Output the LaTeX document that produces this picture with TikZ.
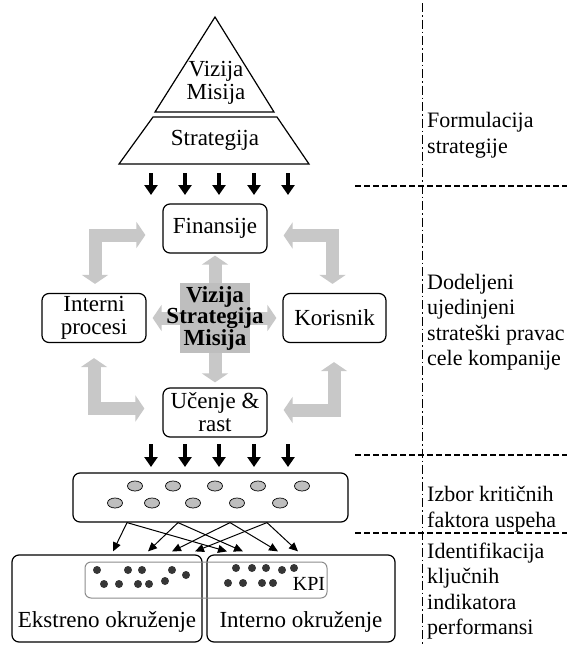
\documentclass[tikz,border=0pt]{standalone}
\usepackage{fontspec}
\setmainfont{Liberation Serif}
\usepackage{tikz}
\usetikzlibrary{arrows.meta,positioning,shapes.geometric,calc}
\definecolor{bscGray}{HTML}{C8C8C8}
\definecolor{bscCore}{HTML}{BEBEBE}
\definecolor{bscDot}{HTML}{363636}
\definecolor{bscFrame}{HTML}{8C8C8C}
\tikzset{
  x=1pt, y=-1pt,
  every picture/.append style={font=\fontsize{23}{23}\selectfont},
  persp/.style={rectangle,rounded corners=7pt,draw,line width=1.2pt,align=center,minimum width=104pt,minimum height=49pt,inner sep=2pt},
  pyr/.style={draw,line width=1.2pt,line join=miter},
  oval/.style={ellipse,draw,line width=0.7pt,fill=bscCore,minimum width=15pt,minimum height=10pt,inner sep=0pt},
  fatarrow/.style={draw=bscGray,line width=13pt},
  fatone/.style={fatarrow,-{Triangle[length=9pt,width=26pt]}},
  fattwo/.style={fatarrow,{Triangle[length=9pt,width=26pt]}-{Triangle[length=9pt,width=26pt]}},
  downarrow/.style={line width=4pt,-{Triangle[length=10pt,width=13pt]}},
  thinarrow/.style={line width=1pt,-{Triangle[length=9pt,width=8pt]}},
  sidetext/.style={anchor=west,align=left,inner sep=0pt,font=\fontsize{22}{25.5}\selectfont},
  sepline/.style={line width=1.2pt,dash pattern=on 6pt off 3pt},
  stageline/.style={line width=1pt,dash pattern=on 9pt off 3pt on 1.5pt off 3pt},
}
\begin{document}
\begin{tikzpicture}
  \useasboundingbox (0,0) rectangle (567,646);
  % pyramid
  \coordinate (apex) at (215,17);
  \draw[pyr] (apex) -- (274,112) -- (155,112) -- cycle;
  \draw[pyr] (153,117) -- (277,117) -- (309,164) -- (119,164) -- cycle;
  \node[align=center] (vm) at (216,83) {Vizija\\Misija};
  \node (str) at (215,140) {Strategija};
  \foreach \x in {151,185,219,254,288} \draw[downarrow] (\x,173) -- (\x,195);
  % perspectives
  \node[persp] (fin) at (215,228.5) {Finansije};
  \node[persp] (int) at (94,318) {Interni\\procesi};
  \node[persp, minimum width=103pt] (kor) at (334.5,318) {Korisnik};
  \node[persp] (uce) at (215,412.5) {Učenje \&\\rast};
  \coordinate (mid) at (215,318);
  \draw[fatone] (mid) -- ([yshift=-2pt]fin.south);
  \draw[fatone] (mid) -- ([xshift=6pt]int.east);
  \draw[fatone] (mid) -- ([xshift=-6pt]kor.west);
  \draw[fatone] (mid) -- ([yshift=5pt]uce.north);
  \coordinate (tl1) at ([xshift=-17pt,yshift=-6.5pt]fin.west);
  \coordinate (tl2) at ([xshift=1pt,yshift=9pt]int.north);
  \coordinate (tr1) at ([xshift=16pt,yshift=-7pt]fin.east);
  \coordinate (tr2) at ([xshift=-2pt,yshift=9pt]kor.north);
  \coordinate (bl1) at ([yshift=-15pt]int.south);
  \coordinate (bl2) at ([xshift=-18pt,yshift=4pt]uce.west);
  \coordinate (br1) at ([xshift=-0.5pt,yshift=-19pt]kor.south);
  \coordinate (br2) at ([xshift=16pt,yshift=2.5pt]uce.east);
  \draw[fattwo] (tl1) -| (tl2);
  \draw[fattwo] (tr1) -| (tr2);
  \draw[fattwo] (bl1) |- (bl2);
  \draw[fattwo] (br1) |- (br2);
  \node[fill=bscCore, minimum size=70pt, inner sep=0pt] (core) at (mid) {};
  \node[align=center, font=\fontsize{23}{21.5}\selectfont\bfseries] (coretxt) at (core) {Vizija\\Strategija\\Misija};
  \foreach \x in {151,185,219,254,288} \draw[downarrow] (\x,444) -- (\x,467);
  % critical success factors
  \node[persp, minimum width=275pt] (csf) at (210.5,497.5) {};
  \foreach \x in {135,173,215,258,302} \node[oval] (csfa\x) at (\x,486) {};
  \foreach \x in {115,152,193,237,280} \node[oval] (csfb\x) at (\x,503) {};
  % environments and KPI
  \node[persp, minimum width=190pt, minimum height=87pt] (ext) at (107,598.5) {};
  \node[persp, minimum width=188pt, minimum height=87pt] (inter) at (301,598.5) {};
  \node (extlbl) at ([yshift=21pt]ext.south) {Ekstreno okruženje};
  \node (interlbl) at ([yshift=21pt]inter.south) {Interno okruženje};
  \node[draw=bscFrame, rounded corners=6pt, line width=1pt, minimum width=242pt, minimum height=36pt] (kpi) at (206,580) {};
  \foreach \x/\y in {97/570,128/570,142/570,172/570,186/575,104/584,119/584,138/584,149/584,165/581,
                     236/568,252/568,266/568,282/570,294/568,228/583,243/583,262/583,273/583}
    \fill[bscDot] (\x,\y) circle (4pt);
  \node[font=\fontsize{20}{20}\selectfont, inner sep=0pt] (kpilbl) at (309,584) {KPI};
  \foreach \s/\a/\b in {-83.5/6/-74, -32.5/41/-58, 19.5/65/-23, 56.5/88/-3} {
    \draw[thinarrow] ([xshift=\s pt]csf.south) -- ([xshift=\a pt,yshift=3pt]ext.north);
    \draw[thinarrow] ([xshift=\s pt]csf.south) -- ([xshift=\b pt,yshift=3pt]inter.north);
  }
  % stages
  \draw[stageline] (422,3) -- (422,646);
  \draw[sepline] (355,186) -- (567,186);
  \draw[sepline] (355,455) -- (567,455);
  \draw[sepline] (355,533) -- (567,533);
  \node[sidetext] (st1) at (427,135) {Formulacija\\strategije};
  \node[sidetext] (st2) at (427,322) {Dodeljeni\\ujedinjeni\\strateški pravac\\cele kompanije};
  \node[sidetext] (st3) at (427,509) {Izbor kritičnih\\faktora uspeha};
  \node[sidetext] (st4) at (427,591) {Identifikacija\\ključnih\\indikatora\\performansi};
\end{tikzpicture}
\end{document}
